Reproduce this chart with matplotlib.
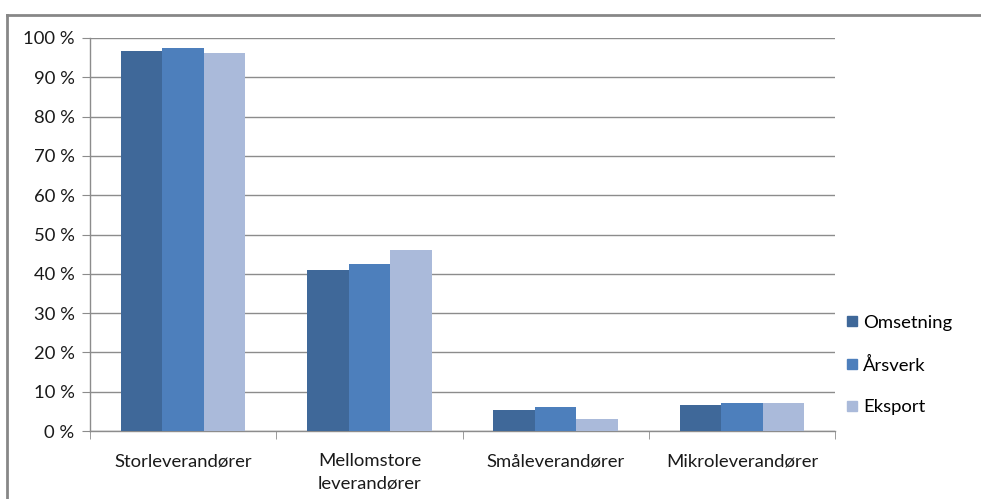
import numpy as np
import matplotlib.pyplot as plt
from matplotlib.lines import Line2D
from matplotlib.ticker import MultipleLocator, FuncFormatter

plt.rcParams["font.family"] = ["Lato", "DejaVu Sans"]

categories = ["Storleverandører", "Mellomstore\nleverandører", "Småleverandører", "Mikroleverandører"]
series_names = ["Omsetning", "Årsverk", "Eksport"]
omsetning = [96.8, 41.0, 5.3, 6.5]
aarsverk = [97.5, 42.4, 6.2, 7.0]
eksport = [96.3, 46.1, 3.1, 7.0]
colors = ["#3F6899", "#4D7FBC", "#AABADA"]

FS = 13.3

fig = plt.figure(figsize=(9.81, 4.99), dpi=100)
ax = fig.add_axes([90 / 981, 1 - 431 / 499, 745 / 981, 393 / 499])

x = np.arange(len(categories))
w = 0.223
for i, (vals, name) in enumerate(zip([omsetning, aarsverk, eksport], series_names)):
    ax.bar(x + (i - 1) * w, vals, width=w, color=colors[i], label=name, zorder=3)

ax.set_xlim(-0.5, len(categories) - 0.5)
ax.set_ylim(0, 100)
ax.yaxis.set_major_locator(MultipleLocator(10))
ax.yaxis.set_major_formatter(FuncFormatter(lambda v, p: f"{int(v)} %"))
ax.yaxis.grid(True, color="#8C8C8C", lw=1, zorder=0)

ax.set_xticks(x)
ax.set_xticklabels(categories, fontsize=FS, color="#1a1a1a", linespacing=1.5)
ax.set_xticks(np.arange(len(categories) + 1) - 0.5, minor=True)
ax.tick_params(axis="x", which="major", length=0, pad=16)
ax.tick_params(axis="x", which="minor", length=6, color="#8C8C8C", direction="out")
ax.tick_params(axis="y", length=6, color="#8C8C8C", labelsize=FS, labelcolor="#1a1a1a", pad=5)

for s in ["top", "right"]:
    ax.spines[s].set_visible(False)
for s in ["left", "bottom"]:
    ax.spines[s].set_color("#8C8C8C")
    ax.spines[s].set_linewidth(1)

handles = [Line2D([], [], marker="s", ls="", color=c, markersize=7.5) for c in colors]
fig.legend(handles, series_names, loc="center left", bbox_to_anchor=(824 / 981, 1 - 365 / 499),
           frameon=False, fontsize=FS, handletextpad=0.0, labelspacing=1.4,
           handlelength=1.2)

# outer chart border (top and left only)
fig.add_artist(Line2D([7 / 981, 1], [1 - 15 / 499, 1 - 15 / 499], color="#878787", lw=2,
                      transform=fig.transFigure))
fig.add_artist(Line2D([7 / 981, 7 / 981], [0, 1 - 15 / 499], color="#878787", lw=2,
                      transform=fig.transFigure))

fig.savefig("out.png", dpi=100)
